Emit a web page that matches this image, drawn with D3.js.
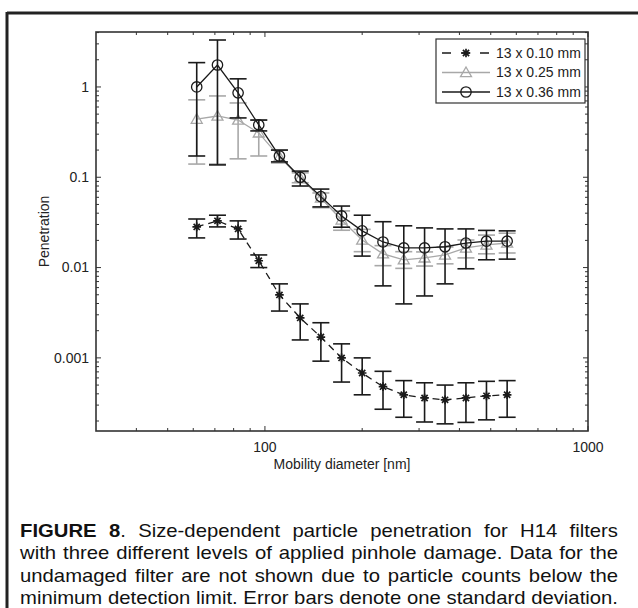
<!DOCTYPE html>
<html lang="en">
<head>
    <meta charset="UTF-8">
    <title>Penetration</title>
    <script src="https://cdn.jsdelivr.net/npm/d3@7/dist/d3.min.js"></script>
    <style>
        body { margin: 0; background: #fff; }
        svg { font-family: "Liberation Sans", Arial, sans-serif; }
    </style>
</head>
<body>
<div class="chart"></div>
<script>
    const width = 638
    const height = 608
    const plot = { left: 96, right: 588, top: 32, bottom: 431 }

    const diameters = [61.5, 71.3, 82.6, 95.7, 110.9, 128.6, 149, 172.7, 200, 232, 269, 312, 361, 419, 485, 562]

    const p010 = [0.0282, 0.0329, 0.0268, 0.0119, 0.00498, 0.00277, 0.0017, 0.001, 0.00068, 0.00048, 0.00039, 0.00036, 0.000343, 0.00036, 0.00038, 0.00039]
    const p010Lo = [0.0213, 0.0282, 0.0207, 0.0100, 0.0033, 0.00158, 0.00092, 0.00054, 0.00039, 0.00027, 0.00022, 0.000195, 0.000186, 0.000193, 0.000206, 0.00022]
    const p010Hi = [0.0345, 0.038, 0.0329, 0.0138, 0.0066, 0.00396, 0.00245, 0.00143, 0.0010, 0.00071, 0.00056, 0.00053, 0.00050, 0.00053, 0.00055, 0.00056]

    const p025 = [0.44, 0.477, 0.43, 0.31, 0.168, 0.098, 0.059, 0.0337, 0.0202, 0.0142, 0.0122, 0.0128, 0.0138, 0.0165, 0.0178, 0.0187]
    const p025Lo = [0.14, 0.14, 0.16, 0.172, 0.144, 0.087, 0.046, 0.0259, 0.015, 0.0105, 0.0098, 0.0104, 0.011, 0.0128, 0.0142, 0.0145]
    const p025Hi = [0.72, 0.795, 0.665, 0.43, 0.2, 0.112, 0.067, 0.0424, 0.0265, 0.0175, 0.015, 0.0149, 0.0169, 0.0202, 0.0229, 0.024]

    const p036 = [1.0, 1.75, 0.86, 0.38, 0.172, 0.1, 0.061, 0.0373, 0.0255, 0.0192, 0.0165, 0.0165, 0.0170, 0.0187, 0.0196, 0.0196]
    const p036Lo = [0.172, 0.137, 0.454, 0.326, 0.148, 0.08, 0.047, 0.028, 0.0134, 0.00627, 0.00396, 0.00485, 0.0066, 0.0097, 0.0122, 0.0124]
    const p036Hi = [1.86, 3.31, 1.23, 0.43, 0.2, 0.117, 0.074, 0.048, 0.038, 0.0322, 0.029, 0.0275, 0.0268, 0.0268, 0.0258, 0.0255]

    const seriesNames = ['13 x 0.10 mm', '13 x 0.25 mm', '13 x 0.36 mm']
    const xTickLabels = ['100', '1000']
    const yTickLabels = ['0.001', '0.01', '0.1', '1']

    const captionLines = [
        ['FIGURE', '8.', 'Size-dependent', 'particle', 'penetration', 'for', 'H14', 'filters'],
        ['with', 'three', 'different', 'levels', 'of', 'applied', 'pinhole', 'damage.', 'Data', 'for', 'the'],
        ['undamaged', 'filter', 'are', 'not', 'shown', 'due', 'to', 'particle', 'counts', 'below', 'the'],
        ['minimum', 'detection', 'limit.', 'Error', 'bars', 'denote', 'one', 'standard', 'deviation.']
    ]

    const series = [
        { name: seriesNames[0], y: p010, lo: p010Lo, hi: p010Hi, color: '#1a1a1a', dash: '7,5', marker: 'star' },
        { name: seriesNames[1], y: p025, lo: p025Lo, hi: p025Hi, color: '#a8a8a8', dash: null, marker: 'triangle' },
        { name: seriesNames[2], y: p036, lo: p036Lo, hi: p036Hi, color: '#1a1a1a', dash: null, marker: 'circle' }
    ]

    const xScale = d3.scaleLog().domain([30, 1000]).range([plot.left, plot.right])
    const yScale = d3.scaleLog().domain([1.55e-4, 4.06]).range([plot.bottom, plot.top])

    const svg = d3.select('.chart')
        .append('svg')
        .attr('width', width)
        .attr('height', height)

    // figure frame
    svg.append('line').attr('x1', 7).attr('x2', width).attr('y1', 13).attr('y2', 13)
        .attr('stroke', '#222').attr('stroke-width', 3)
    svg.append('line').attr('x1', 7).attr('x2', 7).attr('y1', 12).attr('y2', height)
        .attr('stroke', '#222').attr('stroke-width', 3)

    const xMinor = [40, 50, 60, 70, 80, 90, 200, 300, 400, 500, 600, 700, 800, 900]
    const xMajor = xTickLabels.map(Number)
    const yMajor = yTickLabels.map(Number)
    const yMinor = []
    ;[1e-4, 1e-3, 1e-2, 1e-1, 1].forEach(dec => {
        for (let k = 2; k <= 9; k++) {
            const v = dec * k
            if (v > yScale.domain()[0] && v < yScale.domain()[1]) yMinor.push(v)
        }
    })

    const axisG = svg.append('g').attr('class', 'axes')
        .attr('stroke', '#333').attr('stroke-width', 1)

    function tickLines(values, scale, orient, len) {
        values.forEach(v => {
            const p = scale(v)
            if (orient === 'x') {
                axisG.append('line').attr('x1', p).attr('x2', p).attr('y1', plot.bottom).attr('y2', plot.bottom - len)
                axisG.append('line').attr('x1', p).attr('x2', p).attr('y1', plot.top).attr('y2', plot.top + len)
            } else {
                axisG.append('line').attr('y1', p).attr('y2', p).attr('x1', plot.left).attr('x2', plot.left + len)
                axisG.append('line').attr('y1', p).attr('y2', p).attr('x1', plot.right).attr('x2', plot.right - len)
            }
        })
    }
    tickLines(xMinor, xScale, 'x', 3)
    tickLines(xMajor, xScale, 'x', 5)
    tickLines(yMinor, yScale, 'y', 3)
    tickLines(yMajor, yScale, 'y', 5)

    svg.append('rect')
        .attr('x', plot.left).attr('y', plot.top)
        .attr('width', plot.right - plot.left).attr('height', plot.bottom - plot.top)
        .attr('fill', 'none').attr('stroke', '#333').attr('stroke-width', 1.6)

    svg.append('g').selectAll('text').data(xTickLabels).enter().append('text')
        .attr('x', d => xScale(+d)).attr('y', plot.bottom + 21)
        .attr('text-anchor', 'middle').attr('font-size', '14px').attr('fill', '#222')
        .text(d => d)

    svg.append('g').selectAll('text').data(yTickLabels).enter().append('text')
        .attr('x', plot.left - 7).attr('y', d => yScale(+d)).attr('dy', '0.35em')
        .attr('text-anchor', 'end').attr('font-size', '14px').attr('fill', '#222')
        .text(d => d)

    svg.append('text')
        .attr('x', (plot.left + plot.right) / 2).attr('y', plot.bottom + 38)
        .attr('text-anchor', 'middle').attr('font-size', '14px').attr('fill', '#222')
        .text('Mobility diameter [nm]')

    svg.append('text')
        .attr('transform', `translate(49, ${(plot.top + plot.bottom) / 2}) rotate(-90)`)
        .attr('text-anchor', 'middle').attr('font-size', '14px').attr('fill', '#222')
        .text('Penetration')

    function drawMarker(g, type, x, y, color) {
        if (type === 'circle') {
            g.append('circle').attr('cx', x).attr('cy', y).attr('r', 5.2)
                .attr('fill', 'none').attr('stroke', color).attr('stroke-width', 1.3)
        } else if (type === 'triangle') {
            const r = 5.5
            g.append('path')
                .attr('d', `M${x},${y - r}L${x + r},${y + r * 0.75}L${x - r},${y + r * 0.75}Z`)
                .attr('fill', 'none').attr('stroke', color).attr('stroke-width', 1.3)
        } else {
            const r = 4.3
            const d = r * 0.72
            g.append('path')
                .attr('d', `M${x - r},${y}H${x + r}M${x},${y - r}V${y + r}M${x - d},${y - d}L${x + d},${y + d}M${x - d},${y + d}L${x + d},${y - d}`)
                .attr('stroke', color).attr('stroke-width', 1.7)
        }
    }

    const line = d3.line().x(d => xScale(d.x)).y(d => yScale(d.y))

    series.forEach(s => {
        const pts = diameters.map((x, i) => ({ x, y: s.y[i], lo: s.lo[i], hi: s.hi[i] }))
        const g = svg.append('g').attr('class', 'series')

        g.append('path').datum(pts)
            .attr('d', line)
            .attr('fill', 'none').attr('stroke', s.color).attr('stroke-width', 1.3)
            .attr('stroke-dasharray', s.dash)

        const bars = g.selectAll('.bar').data(pts).enter().append('g').attr('class', 'bar')
            .attr('stroke', s.color).attr('stroke-width', 1.6)
        bars.append('line')
            .attr('x1', d => xScale(d.x)).attr('x2', d => xScale(d.x))
            .attr('y1', d => yScale(d.lo)).attr('y2', d => yScale(d.hi))
        bars.append('line')
            .attr('x1', d => xScale(d.x) - 8.5).attr('x2', d => xScale(d.x) + 8.5)
            .attr('y1', d => yScale(d.lo)).attr('y2', d => yScale(d.lo))
        bars.append('line')
            .attr('x1', d => xScale(d.x) - 8.5).attr('x2', d => xScale(d.x) + 8.5)
            .attr('y1', d => yScale(d.hi)).attr('y2', d => yScale(d.hi))

        pts.forEach(d => drawMarker(g, s.marker, xScale(d.x), yScale(d.y), s.color))
    })

    // legend
    const legend = svg.append('g').attr('transform', 'translate(436, 39)')
    legend.append('rect').attr('width', 149).attr('height', 64)
        .attr('fill', '#fff').attr('stroke', '#333').attr('stroke-width', 1.2)
    series.forEach((s, i) => {
        const ly = 14 + i * 19.5
        legend.append('line').attr('x1', 6).attr('x2', 54).attr('y1', ly).attr('y2', ly)
            .attr('stroke', s.color).attr('stroke-width', 1.3).attr('stroke-dasharray', s.dash ? '9,10' : null)
        drawMarker(legend, s.marker, 30, ly, s.color)
        legend.append('text').attr('x', 60).attr('y', ly).attr('dy', '0.35em')
            .attr('font-size', '14px').attr('fill', '#222').text(s.name)
    })

    // caption, justified; glyphs are a bit wider than the installed Arial metric
    const capLeft = 20
    const capRight = 618
    const capSize = 18
    const cap = svg.append('g')

    const rows = captionLines.map((words, li) => {
        const baseY = 537 + li * 22.5
        return words.map((w, wi) => {
            const bold = li === 0 && wi < 2
            const t = cap.append('text').attr('y', baseY)
                .attr('font-size', capSize + 'px').attr('fill', '#111')
                .attr('font-weight', bold ? 'bold' : 'normal')
            if (li === 0 && wi === 1) {
                t.append('tspan').text('8')
                t.append('tspan').attr('font-weight', 'normal').text('.')
            } else {
                t.text(w)
            }
            return t
        })
    })

    const spaceW = capSize * 0.278
    const lastWidths = rows[3].map(n => n.node().getComputedTextLength())
    const natural = d3.sum(lastWidths) + spaceW * (lastWidths.length - 1)
    const sx = (capRight - capLeft) / natural
    cap.attr('transform', `translate(${capLeft}, 0) scale(${sx}, 1)`)

    rows.forEach(nodes => {
        const widths = nodes.map(n => n.node().getComputedTextLength())
        const total = d3.sum(widths)
        const gap = ((capRight - capLeft) / sx - total) / (nodes.length - 1)
        let x = 0
        nodes.forEach((n, i) => {
            n.attr('x', x)
            x += widths[i] + gap
        })
    })
</script>
</body>
</html>
